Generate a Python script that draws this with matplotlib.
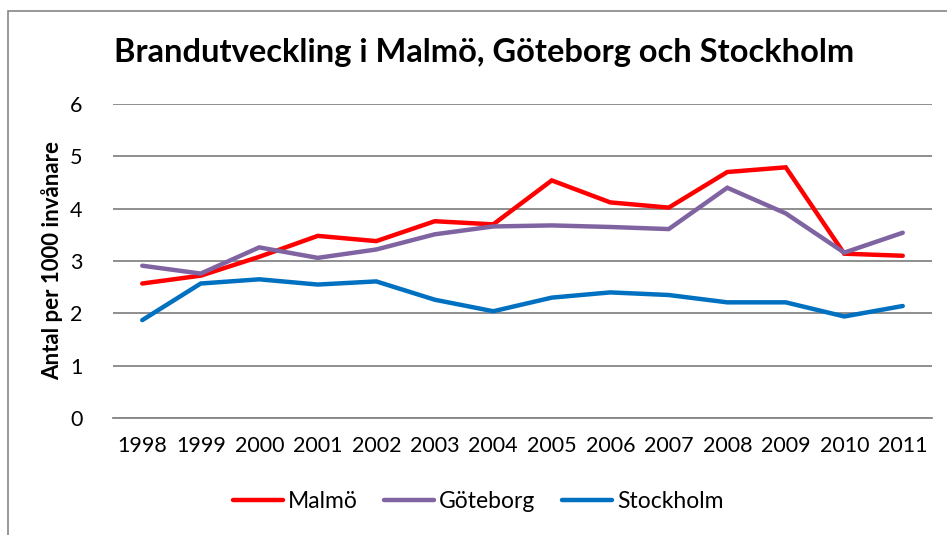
import matplotlib
matplotlib.use("Agg")
import matplotlib.pyplot as plt
from matplotlib.patches import Rectangle

# -------------------------------
# Data
# -------------------------------
years = ["1998", "1999", "2000", "2001", "2002", "2003", "2004",
         "2005", "2006", "2007", "2008", "2009", "2010", "2011"]

malmo = [2.57, 2.72, 3.08, 3.48, 3.38, 3.76, 3.70,
         4.54, 4.12, 4.02, 4.70, 4.79, 3.14, 3.10]
goteborg = [2.91, 2.76, 3.26, 3.06, 3.22, 3.51, 3.66,
            3.68, 3.65, 3.61, 4.40, 3.91, 3.16, 3.54]
stockholm = [1.87, 2.57, 2.65, 2.55, 2.61, 2.26, 2.04,
             2.30, 2.40, 2.35, 2.21, 2.21, 1.94, 2.14]

series_names = ["Malmö", "Göteborg", "Stockholm"]
series_colors = ["#FF0000", "#8064A2", "#0070C0"]
yticks = [0, 1, 2, 3, 4, 5, 6]

plt.rcParams["font.family"] = ["Lato", "DejaVu Sans"]

W, H = 947, 535
fig = plt.figure(figsize=(W / 100, H / 100), dpi=100)

# chart border
fig.patches.append(Rectangle((8 / W, -0.1), 1.2, 1 - 11 / H + 0.1,
                             transform=fig.transFigure, fill=False,
                             edgecolor="#868686", linewidth=1.2))

ax = fig.add_axes([113 / W, 1 - 418 / H, (932 - 113) / W, (418 - 104) / H])

x = list(range(len(years)))
for vals, name, col in zip([malmo, goteborg, stockholm], series_names, series_colors):
    ax.plot(x, vals, color=col, linewidth=3.2, label=name, solid_capstyle="round",
            solid_joinstyle="miter", zorder=3)

ax.set_xlim(-0.5, len(years) - 0.5)
ax.set_ylim(0, 6)
ax.set_yticks(yticks)
ax.set_xticks(x)
ax.set_xticklabels(years)
ax.tick_params(axis="both", length=0, labelsize=15.5, colors="black")
ax.tick_params(axis="y", pad=22)
ax.tick_params(axis="x", pad=13)
ax.grid(axis="y", color="#868686", linewidth=1.3)
ax.set_axisbelow(True)
for s in ["top", "right", "left"]:
    ax.spines[s].set_visible(False)
ax.spines["bottom"].set_color("#868686")
ax.spines["bottom"].set_linewidth(1.3)

ax.set_ylabel("Antal per 1000 invånare", fontsize=16, fontweight="bold", labelpad=5)

fig.text(484 / W, 1 - 52 / H, "Brandutveckling i Malmö, Göteborg och Stockholm",
         fontsize=23.5, fontweight="bold", ha="center", va="center")

ax.legend(loc="center", bbox_to_anchor=(478 / W, 1 - 502 / H),
          bbox_transform=fig.transFigure, ncol=3, frameon=False,
          fontsize=16.5, handlelength=2.2, handletextpad=0.2, columnspacing=1.15)

fig.savefig("out.png", dpi=100)
